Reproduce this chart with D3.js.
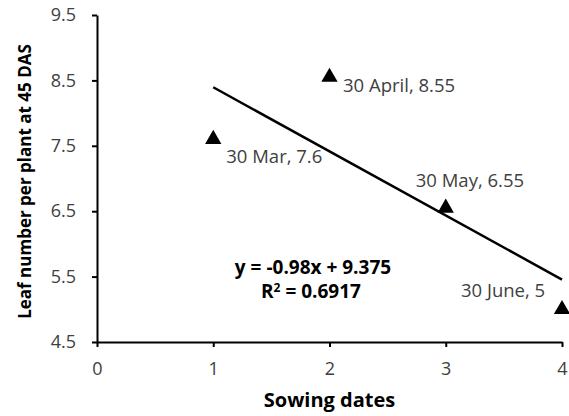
<!DOCTYPE html>
<html><head><meta charset="utf-8">
<script src="https://cdn.jsdelivr.net/npm/d3@7"></script>
<style>body{margin:0;background:#fff}svg{display:block}</style>
</head><body>
<script>
const xValues = [1, 2, 3, 4];
const yValues = [7.6, 8.55, 6.55, 5];
const pointLabels = ["30 Mar, 7.6", "30 April, 8.55", "30 May, 6.55", "30 June, 5"];
const xTicks = [0, 1, 2, 3, 4];
const yTicks = [4.5, 5.5, 6.5, 7.5, 8.5, 9.5];
const slope = -0.98, intercept = 9.375, r2 = "0.6917";

const W = 569, H = 416;
const svg = d3.select("body").append("svg").attr("width", W).attr("height", H);
const x = d3.scaleLinear().domain([0, 4]).range([97, 562]);
const y = d3.scaleLinear().domain([4.5, 9.5]).range([342, 15]);
const font = "'Open Sans', sans-serif";

const xa = svg.append("g").attr("transform", `translate(0,${y(4.5)})`)
  .call(d3.axisBottom(x).tickValues(xTicks).tickSize(5).tickSizeOuter(0).tickFormat(d3.format("d")));
const ya = svg.append("g").attr("transform", `translate(${x(0)},0)`)
  .call(d3.axisLeft(y).tickValues(yTicks).tickSize(5).tickSizeOuter(0).tickFormat(d3.format(".1f")));
[xa, ya].forEach(a => {
  a.select(".domain").attr("stroke", "#000").attr("stroke-width", 2);
  a.selectAll(".tick line").attr("stroke", "#000").attr("stroke-width", 2);
  a.selectAll("text").attr("fill", "#404040").style("font-family", font).style("font-size", "18px");
});
xa.selectAll("text").attr("y", 33).attr("dy", 0);
ya.selectAll("text").attr("x", -21);

// trend line
svg.append("line")
  .attr("x1", x(1)).attr("y1", y(slope * 1 + intercept))
  .attr("x2", x(4)).attr("y2", y(slope * 4 + intercept))
  .attr("stroke", "#000").attr("stroke-width", 2.5);

// markers
const tri = d3.symbol().type(d3.symbolTriangle).size(115);
svg.selectAll("path.pt").data(xValues).enter().append("path")
  .attr("class", "pt").attr("d", tri)
  .attr("transform", (d, i) => `translate(${x(d)},${y(yValues[i])})`)
  .attr("fill", "#000");

// point labels
const offs = [[13, 24], [13.5, 15], [-30, -21], [-101, -12]];
svg.selectAll("text.lbl").data(xValues).enter().append("text")
  .attr("class", "lbl")
  .attr("x", (d, i) => x(d) + offs[i][0])
  .attr("y", (d, i) => y(yValues[i]) + offs[i][1])
  .attr("fill", "#404040")
  .style("font-family", font).style("font-size", "18.5px")
  .text((d, i) => pointLabels[i]);

// equation
const eq = svg.append("g").style("font-family", font).style("font-weight", "bold").style("font-size", "19px").attr("fill", "#000");
eq.append("text").attr("x", 313).attr("y", 274).attr("text-anchor", "middle").text(`y = ${slope}x + ${intercept}`);
const r = eq.append("text").attr("x", 311).attr("y", 298).attr("text-anchor", "middle");
r.append("tspan").text("R");
r.append("tspan").attr("dy", -6).style("font-size", "12px").text("2");
r.append("tspan").attr("dy", 6).text(` = ${r2}`);

// axis titles
svg.append("text").attr("x", x(2)).attr("y", 407).attr("text-anchor", "middle")
  .style("font-family", font).style("font-weight", "bold").style("font-size", "20px").text("Sowing dates");
svg.append("text").attr("transform", `translate(31,${(y(4.5)+y(9.5))/2 + 3}) rotate(-90)`).attr("text-anchor", "middle")
  .style("font-family", font).style("font-weight", "bold").style("font-size", "17px").text("Leaf number per plant at 45 DAS");
</script>
</body></html>
